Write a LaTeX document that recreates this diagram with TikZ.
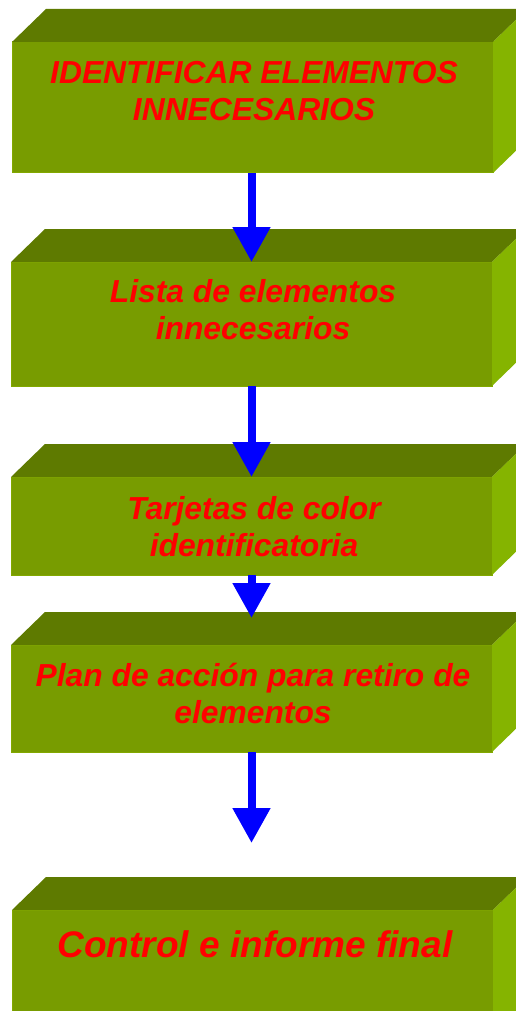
\documentclass[tikz,border=0pt]{standalone}
\usepackage{fontspec}
\setmainfont{Liberation Sans}
\usetikzlibrary{arrows.meta}
\definecolor{frontgreen}{RGB}{120,156,0}
\definecolor{topgreen}{RGB}{94,122,0}
\definecolor{sidegreen}{RGB}{133,180,0}
\definecolor{edgegreen}{RGB}{130,168,0}
\tikzset{
  face/.style={rectangle, anchor=north west, fill=frontgreen, draw=edgegreen, line width=1pt, minimum width=481pt, inner sep=0pt, outer sep=0pt},
  lbl/.style={anchor=base, align=center, text=red, font=\bfseries\itshape\fontsize{31.8}{37}\selectfont},
  flow/.style={blue, line width=8pt, -{Triangle[width=36pt,length=35pt]}}
}
\begin{document}
\begin{tikzpicture}[x=1pt, y=1pt]
    \useasboundingbox (0,0) rectangle (516,-1011);
    \clip (0,0) rectangle (516,-1011);
    \fill[white] (0,0) rectangle (516,-1011);
    % front faces
    \node[face, minimum height=131pt] (b1) at (12,-42) {};
    \node[face, minimum height=124pt] (b2) at (11,-262) {};
    \node[face, minimum height=98pt] (b3) at (11,-477) {};
    \node[face, minimum height=107pt] (b4) at (11,-645) {};
    \node[face, minimum height=140pt] (b5) at (12,-910) {};
    % top and side faces
    \foreach \b in {b1,b2,b3,b4,b5} {
        \fill[topgreen] (\b.north west) -- ++(34pt,33pt) -- ([shift={(34pt,33pt)}]\b.north east) -- (\b.north east) -- cycle;
        \fill[sidegreen] (\b.north east) -- ++(34pt,33pt) -- ([shift={(34pt,33pt)}]\b.south east) -- (\b.south east) -- cycle;
    }
    % labels (base = last line)
    \node[lbl] (t1) at (254,-121) {IDENTIFICAR ELEMENTOS\\INNECESARIOS};
    \node[lbl] (t2) at (253,-339) {Lista de elementos\\innecesarios};
    \node[lbl] (t3) at (254,-556) {Tarjetas de color\\identificatoria};
    \node[lbl] (t4) at (253,-723) {Plan de acción para retiro de\\elementos};
    \node[lbl, font=\bfseries\itshape\fontsize{37}{44}\selectfont] (t5) at (255,-957) {Control e informe final};
    % arrows
    \draw[flow] (b2.north |- b1.south) -- (b2.north);
    \draw[flow] (b2.south) -- (b3.north);
    \draw[flow, shorten >=27pt] (b3.south) -- (b4.north);
    \draw[flow, shorten >=67pt] (b4.south) -- (b4.south |- b5.north);
\end{tikzpicture}
\end{document}
